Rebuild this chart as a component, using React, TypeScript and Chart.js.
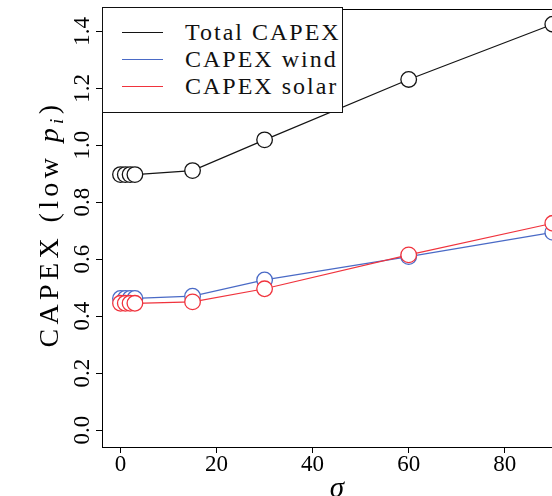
import React, { useEffect, useRef } from "react";
import { Chart, registerables } from "chart.js";

Chart.register(...registerables);

const sigmaValues = [0, 1, 2, 3, 15, 30, 60, 90];
const totalCapex = [0.897, 0.897, 0.897, 0.897, 0.911, 1.019, 1.231, 1.425];
const windCapex = [0.462, 0.462, 0.462, 0.462, 0.47, 0.527, 0.609, 0.694];
const solarCapex = [0.445, 0.445, 0.445, 0.445, 0.45, 0.496, 0.615, 0.726];

const xTickValues = [0, 20, 40, 60, 80];
const yTickValues = [0, 0.2, 0.4, 0.6, 0.8, 1.0, 1.2, 1.4];

const seriesLabels = ["Total CAPEX", "CAPEX wind", "CAPEX solar"];
const seriesColors = ["#141414", "#4a6ac6", "#f0333d"];

const xTitle = "σ";
const yTitleParts = ["CAPEX (low ", "p", "i", ")"];

const FONT = "'Liberation Serif', serif";

const framePlugin = {
  id: "frameAndTitle",
  afterDraw(chart: any) {
    const { ctx, chartArea } = chart;
    ctx.save();
    ctx.strokeStyle = "#000";
    ctx.lineWidth = 1;
    ctx.beginPath();
    ctx.moveTo(chartArea.left, Math.round(chartArea.top) + 0.5);
    ctx.lineTo(chartArea.right, Math.round(chartArea.top) + 0.5);
    ctx.moveTo(Math.round(chartArea.right) - 0.5, chartArea.top);
    ctx.lineTo(Math.round(chartArea.right) - 0.5, chartArea.bottom);
    ctx.stroke();
    ctx.restore();

    const fonts = [
      `28px ${FONT}`,
      `italic 28px ${FONT}`,
      `italic 19px ${FONT}`,
      `28px ${FONT}`,
    ];
    const dy = [0, 0, 5, 0];
    const target = 247;
    ctx.save();
    let natural = 0;
    let nChars = 0;
    yTitleParts.forEach((t, i) => {
      ctx.font = fonts[i];
      natural += ctx.measureText(t).width;
      nChars += t.length;
    });
    const spacing = Math.max(0, (target - natural) / nChars);
    const cy = (chartArea.top + chartArea.bottom) / 2 - 4;
    ctx.translate(58, cy);
    ctx.rotate(-Math.PI / 2);
    ctx.fillStyle = "#000";
    ctx.textBaseline = "alphabetic";
    ctx.textAlign = "left";
    let x = -target / 2;
    yTitleParts.forEach((t, i) => {
      ctx.font = fonts[i];
      for (const ch of t) {
        ctx.fillText(ch, x, dy[i]);
        x += ctx.measureText(ch).width + spacing;
      }
    });
    ctx.restore();
  },
};

export default function App() {
  const canvasRef = useRef<HTMLCanvasElement | null>(null);

  useEffect(() => {
    if (!canvasRef.current) return;
    const series = [totalCapex, solarCapex, windCapex];
    const labels = [seriesLabels[0], seriesLabels[2], seriesLabels[1]];
    const colors = [seriesColors[0], seriesColors[2], seriesColors[1]];
    const chart = new Chart(canvasRef.current, {
      type: "line",
      data: {
        datasets: series.map((vals, i) => ({
          label: labels[i],
          data: sigmaValues.map((s, j) => ({ x: s, y: vals[j] })),
          borderColor: colors[i],
          backgroundColor: colors[i],
          borderWidth: 1.2,
          pointRadius: 7.8,
          pointHoverRadius: 7.8,
          pointBorderWidth: 1.3,
          pointBorderColor: colors[i],
          pointBackgroundColor: "#ffffff",
          tension: 0,
          fill: false,
        })),
      },
      options: {
        animation: false,
        responsive: false,
        devicePixelRatio: 1,
        layout: { padding: { left: 0, top: 8, right: 28, bottom: 0 } },
        plugins: {
          legend: { display: false },
          tooltip: { enabled: false },
        },
        scales: {
          x: {
            type: "linear",
            min: -3.85,
            max: 94,
            afterBuildTicks: (scale: any) => {
              scale.ticks = xTickValues.map((v) => ({ value: v }));
            },
            afterFit: (scale: any) => {
              scale.height = 49;
              scale.paddingLeft = 0;
              scale.paddingRight = 0;
            },
            ticks: {
              color: "#000",
              font: { family: FONT, size: 23, lineHeight: 1 },
              padding: 0,
              maxRotation: 0,
              minRotation: 0,
              callback: (v: any) => String(v),
            },
            grid: {
              drawOnChartArea: false,
              drawTicks: true,
              tickLength: 6,
              color: "#000",
              lineWidth: 1,
            },
            border: { display: true, color: "#000", width: 1 },
            title: {
              display: true,
              text: xTitle,
              color: "#000",
              font: { family: FONT, size: 29, style: "italic", lineHeight: 1 },
              padding: { top: 0, bottom: -8 },
            },
          },
          y: {
            type: "linear",
            min: -0.0595,
            max: 1.478,
            afterBuildTicks: (scale: any) => {
              scale.ticks = yTickValues.map((v) => ({ value: v }));
            },
            afterFit: (scale: any) => {
              scale.width = 102;
              scale.paddingTop = 0;
              scale.paddingBottom = 0;
            },
            ticks: {
              color: "#000",
              font: { family: FONT, size: 23, lineHeight: 1 },
              padding: -1,
              minRotation: 90,
              maxRotation: 90,
              crossAlign: "center",
              callback: (v: any) => Number(v).toFixed(1),
            },
            grid: {
              drawOnChartArea: false,
              drawTicks: true,
              tickLength: 6,
              color: "#000",
              lineWidth: 1,
            },
            border: { display: true, color: "#000", width: 1 },
            title: { display: false },
          },
        },
      },
      plugins: [framePlugin],
    } as any);
    return () => chart.destroy();
  }, []);

  const rowStyle: React.CSSProperties = {
    display: "flex",
    alignItems: "center",
    height: 27,
  };

  return (
    <div
      style={{
        position: "fixed",
        left: 0,
        top: 0,
        width: 552,
        height: 496,
        overflow: "hidden",
        background: "#fff",
      }}
    >
      <canvas ref={canvasRef} width={600} height={496} style={{ display: "block" }} />
      <div
        style={{
          position: "absolute",
          left: 102,
          top: 7,
          width: 241,
          height: 106,
          border: "1px solid #111",
          background: "#fff",
          boxSizing: "border-box",
          paddingTop: 11,
          fontFamily: FONT,
          fontSize: 24,
          letterSpacing: "2px",
          color: "#111",
        }}
      >
        {seriesLabels.map((lab, i) => (
          <div key={lab} style={rowStyle}>
            <div
              style={{
                width: 41,
                height: 1.5,
                marginLeft: 19,
                marginRight: 22,
                background: seriesColors[i],
              }}
            />
            <span style={{ lineHeight: "27px", whiteSpace: "nowrap" }}>{lab}</span>
          </div>
        ))}
      </div>
    </div>
  );
}
